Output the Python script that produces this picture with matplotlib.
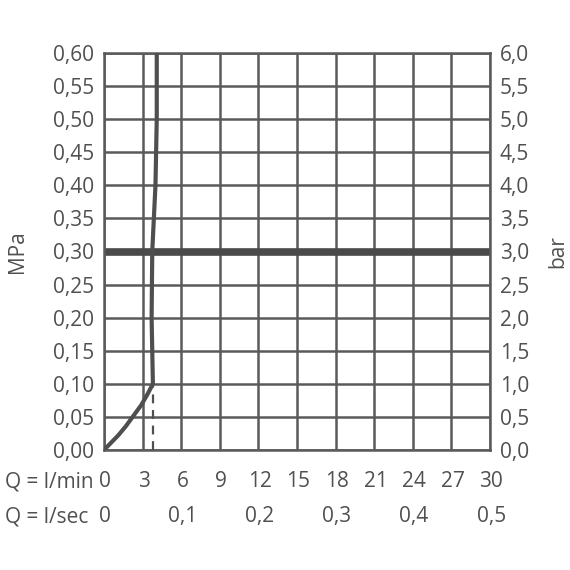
import matplotlib
matplotlib.use("Agg")
import matplotlib.pyplot as plt

# flow curve: Q (l/min) vs pressure (MPa)
q_curve = [0.0, 0.5, 1.1, 1.7, 2.3, 2.9, 3.4, 3.8, 3.75, 3.7, 3.75, 4.0, 4.1, 4.1]
p_curve = [0.0, 0.01, 0.022, 0.036, 0.052, 0.068, 0.085, 0.10, 0.15, 0.20, 0.30, 0.40, 0.50, 0.60]
q_dash = 3.8
p_dash = 0.10
p_ref = 0.30

lmin_ticks = [0, 3, 6, 9, 12, 15, 18, 21, 24, 27, 30]
lsec_ticks = [0, 0.1, 0.2, 0.3, 0.4, 0.5]
mpa_ticks = [i * 0.05 for i in range(13)]

c = "#5a5a5a"
tc = "#505050"
fs = 15
plt.rcParams['font.family'] = ['Open Sans', 'DejaVu Sans']

fig = plt.figure(figsize=(5.7, 5.7), dpi=100)
ax = fig.add_axes([104/570, 1-450/570, (490-104)/570, (450-53)/570])
ax.set_xlim(0, 30)
ax.set_ylim(0, 0.6)

for x in lmin_ticks:
    ax.axvline(x, color=c, lw=1.8, zorder=1)
for y in mpa_ticks:
    ax.axhline(y, color=c, lw=1.8, zorder=1)
ax.axhline(p_ref, color="#4a4a4a", lw=5.5, zorder=2)

ax.plot(q_curve, p_curve, color="#4f4f4f", lw=3, solid_capstyle="round", zorder=3)
ax.plot([q_dash, q_dash], [0, p_dash], color="#4f4f4f", lw=1.6, ls=(0, (4, 3)), zorder=3)

for s in ax.spines.values():
    s.set_color(c)
    s.set_linewidth(1.8)

ax.set_yticks(mpa_ticks)
ax.set_yticklabels([f"{v:.2f}".replace(".", ",") for v in mpa_ticks], fontsize=fs, color=tc)
ax.tick_params(length=0, pad=7)
ax.set_xticks([])
ax.set_ylabel("MPa", fontsize=fs, color=tc)
ax.yaxis.set_label_coords(-0.198, 0.5)

ax2 = ax.twinx()
ax2.set_ylim(0, 6)
ax2.set_yticks([v * 10 for v in mpa_ticks])
ax2.set_yticklabels([f"{v*10:.1f}".replace(".", ",") for v in mpa_ticks], fontsize=fs, color=tc)
ax2.tick_params(length=0, pad=7)
ax2.set_ylabel("bar", fontsize=fs, color=tc)
ax2.yaxis.set_label_coords(1.148, 0.5)
for s in ax2.spines.values():
    s.set_visible(False)

tr = ax.get_xaxis_transform()
for x in lmin_ticks:
    ax.text(x + 0.1, -0.08, str(x), transform=tr, ha="center", va="center", fontsize=fs, color=tc)
for v in lsec_ticks:
    lbl = "0" if v == 0 else f"{v:.1f}".replace(".", ",")
    ax.text(v * 60 + 0.1, -0.168, lbl, transform=tr, ha="center", va="center", fontsize=fs, color=tc)
fig.text(5/570, 1-482/570, "Q = l/min", ha="left", va="center", fontsize=fs, color=tc)
fig.text(5/570, 1-517/570, "Q = l/sec", ha="left", va="center", fontsize=fs, color=tc)

fig.savefig("out.png", dpi=100)
